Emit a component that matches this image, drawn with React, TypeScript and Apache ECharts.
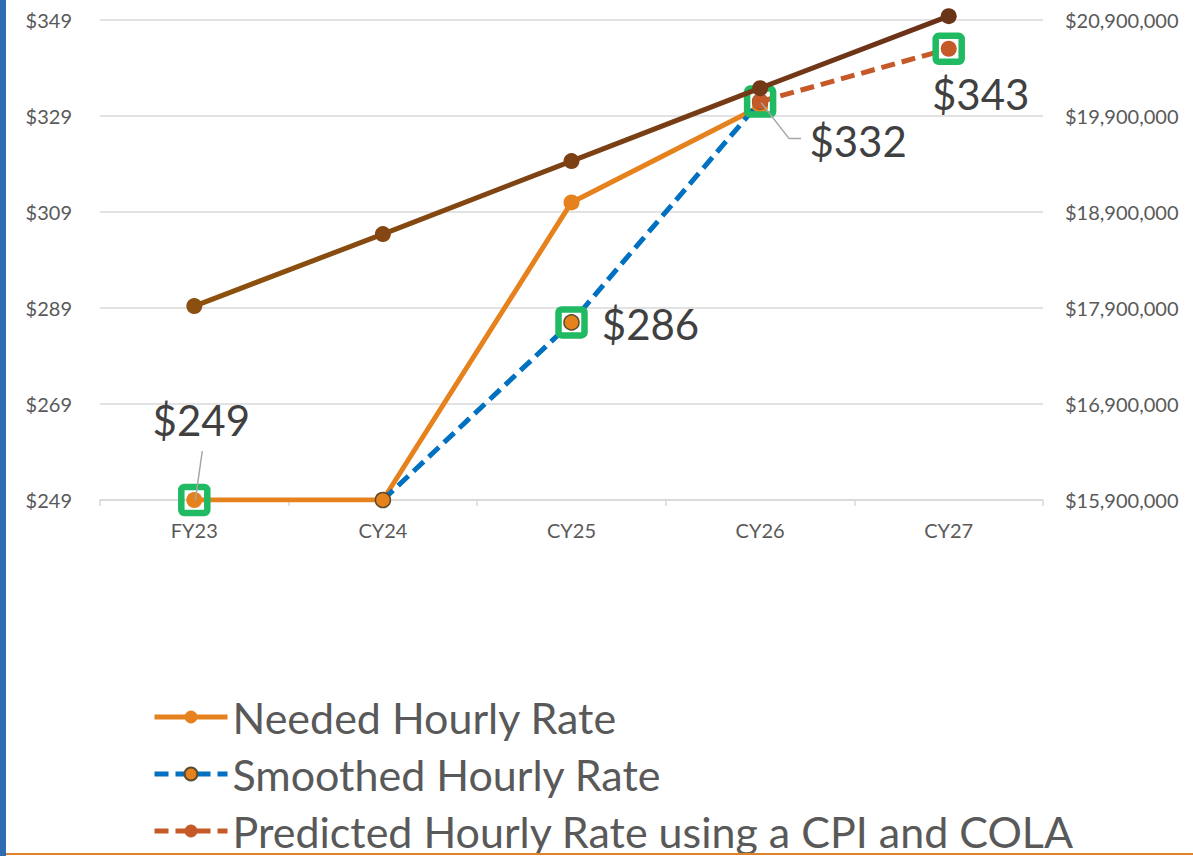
import React, { useEffect, useRef } from 'react';
import * as echarts from 'echarts';

// ---------- data ----------
const categories = ['FY23', 'CY24', 'CY25', 'CY26', 'CY27'];
const neededRate: (number | null)[] = [249, 249, 311, 331, null];
const smoothedRate: (number | null)[] = [null, 249, 286, 332, null];
const predictedRate: (number | null)[] = [null, null, null, 332, 343];
const projectedCost: number[] = [17920000, 18670000, 19430000, 20190000, 20940000];
const highlightedRate: (number | null)[] = [249, null, 286, 332, 343];

const LEFT_MIN = 249;
const LEFT_MAX = 349;
const LEFT_STEP = 20;
const RIGHT_MIN = 15900000;
const RIGHT_MAX = 20900000;
const RIGHT_STEP = 1000000;

const legendNames = [
  'Needed Hourly Rate',
  'Smoothed Hourly Rate',
  'Predicted Hourly Rate using a CPI and COLA',
];

// ---------- style ----------
const FONT = 'Lato, "Noto Sans", sans-serif';
// label offsets (px) relative to the highlighted point, by category index
const labelShift: [number, number][] = [[7, -80], [0, 0], [79, 2], [98, 39], [32, 45]];
// leader-line points (px) relative to the highlighted point
const leaderPts: ([number, number][] | null)[] = [
  [[1, 0], [8, -49]],
  null,
  null,
  [[1, 1], [29, 37], [41, 37]],
  null,
];
const brownMarker = ['#8b4f10', '#844713', '#7c4015', '#733a17', '#6a3418'];
const DASH = [14, 7];

const sL = (v: number | null) => (v == null ? null : v - LEFT_MIN);
const sR = (v: number | null) => (v == null ? null : v - RIGHT_MIN);

function buildOption() {
  const highlightData: [number, number][] = [];
  highlightedRate.forEach((v, i) => {
    if (v != null) highlightData.push([i, v - LEFT_MIN]);
  });

  return {
    animation: false,
    backgroundColor: '#ffffff',
    textStyle: { fontFamily: FONT },
    grid: { left: 100, top: 20, width: 943, height: 480 },
    graphic: [
      { type: 'rect', left: 0, top: 0, shape: { width: 6, height: 856 }, style: { fill: '#2e6bb0' }, silent: true },
      { type: 'rect', left: 6, top: 853, shape: { width: 1187, height: 2 }, style: { fill: '#e0822a' }, silent: true, z: 100 },
    ],
    legend: {
      orient: 'vertical',
      left: 152,
      top: 694,
      height: 300,
      padding: 0,
      itemWidth: 73,
      itemHeight: 16,
      itemGap: 11,
      lineStyle: { width: 5 },
      data: legendNames,
      textStyle: { color: '#595959', fontSize: 43, lineHeight: 46, fontFamily: FONT },
    },
    xAxis: {
      type: 'category',
      data: categories,
      boundaryGap: true,
      axisLine: { lineStyle: { color: '#d9d9d9', width: 1.5 } },
      axisTick: { show: true, length: 6, lineStyle: { color: '#d9d9d9', width: 1.5 } },
      axisLabel: { color: '#595959', fontSize: 20, margin: 20, fontFamily: FONT },
    },
    yAxis: [
      {
        type: 'value',
        position: 'left',
        min: 0,
        max: LEFT_MAX - LEFT_MIN,
        interval: LEFT_STEP,
        axisLine: { show: false },
        axisTick: { show: false },
        splitLine: { lineStyle: { color: '#d9d9d9', width: 1.5 } },
        axisLabel: {
          color: '#595959',
          fontSize: 20,
          margin: 28,
          fontFamily: FONT,
          formatter: (v: number) => '$' + (v + LEFT_MIN),
        },
      },
      {
        type: 'value',
        position: 'right',
        min: 0,
        max: RIGHT_MAX - RIGHT_MIN,
        interval: RIGHT_STEP,
        axisLine: { show: false },
        axisTick: { show: false },
        splitLine: { show: false },
        axisLabel: {
          color: '#595959',
          fontSize: 20,
          margin: 22,
          fontFamily: FONT,
          formatter: (v: number) => '$' + (v + RIGHT_MIN).toLocaleString('en-US'),
        },
      },
    ],
    series: [
      {
        name: legendNames[0],
        type: 'line',
        data: neededRate.map(sL),
        symbol: 'circle',
        symbolSize: 16,
        lineStyle: { color: '#e6821e', width: 5 },
        itemStyle: { color: '#e6821e' },
        z: 2,
      },
      {
        name: legendNames[1],
        type: 'line',
        data: smoothedRate.map(sL),
        symbol: 'circle',
        symbolSize: 15,
        lineStyle: { color: '#0070c0', width: 5, type: DASH, cap: 'butt' },
        itemStyle: { color: '#e6821e', borderColor: '#5b4a2e', borderWidth: 1.5 },
        z: 3,
      },
      {
        name: legendNames[2],
        type: 'line',
        data: predictedRate.map(sL),
        symbol: 'circle',
        symbolSize: 16,
        lineStyle: { color: '#c55a28', width: 5, type: DASH, cap: 'butt' },
        itemStyle: { color: '#c55a28' },
        z: 4,
      },
      {
        name: 'Highlighted Rate',
        type: 'custom',
        data: highlightData,
        encode: { x: 0, y: 1 },
        silent: true,
        z: 5,
        renderItem: (params: any, api: any) => {
          const ci = api.value(0);
          const val = api.value(1);
          const pt = api.coord([ci, val]);
          const x = pt[0];
          const y = pt[1];
          const children: any[] = [
            {
              type: 'rect',
              shape: { x: x - 13, y: y - 13, width: 26, height: 26, r: 3 },
              style: { fill: 'none', stroke: '#1fba62', lineWidth: 6.5 },
            },
          ];
          const lp = leaderPts[ci];
          if (lp) {
            children.push({
              type: 'polyline',
              shape: { points: lp.map(([a, b]) => [x + a, y + b]) },
              style: { fill: 'none', stroke: '#a6a6a6', lineWidth: 1.5 },
              z2: 10,
            });
          }
          children.push({
            type: 'text',
            x: x + labelShift[ci][0],
            y: y + labelShift[ci][1],
            style: {
              text: '$' + (val + LEFT_MIN),
              fill: '#404040',
              fontSize: 42,
              fontFamily: FONT,
              align: 'center',
              verticalAlign: 'middle',
            },
            z2: 11,
          });
          return { type: 'group', children };
        },
      },
      {
        name: 'Projected Cost',
        type: 'line',
        yAxisIndex: 1,
        data: projectedCost.map(sR),
        clip: false,
        symbol: 'circle',
        symbolSize: 16,
        lineStyle: {
          width: 5,
          color: {
            type: 'linear', x: 0, y: 0, x2: 1, y2: 0,
            colorStops: [
              { offset: 0, color: '#8e520d' },
              { offset: 1, color: '#6a3019' },
            ],
          },
        },
        itemStyle: { color: (p: any) => brownMarker[p.dataIndex] },
        z: 6,
      },
    ],
  };
}

export default function App() {
  const ref = useRef<HTMLDivElement>(null);
  useEffect(() => {
    if (!ref.current) return;
    const chart = echarts.init(ref.current, null, { renderer: 'svg' });
    chart.setOption(buildOption() as any);
    return () => chart.dispose();
  }, []);
  return (
    <div
      ref={ref}
      style={{ position: 'absolute', left: 0, top: 0, width: 1193, height: 856 }}
    />
  );
}
